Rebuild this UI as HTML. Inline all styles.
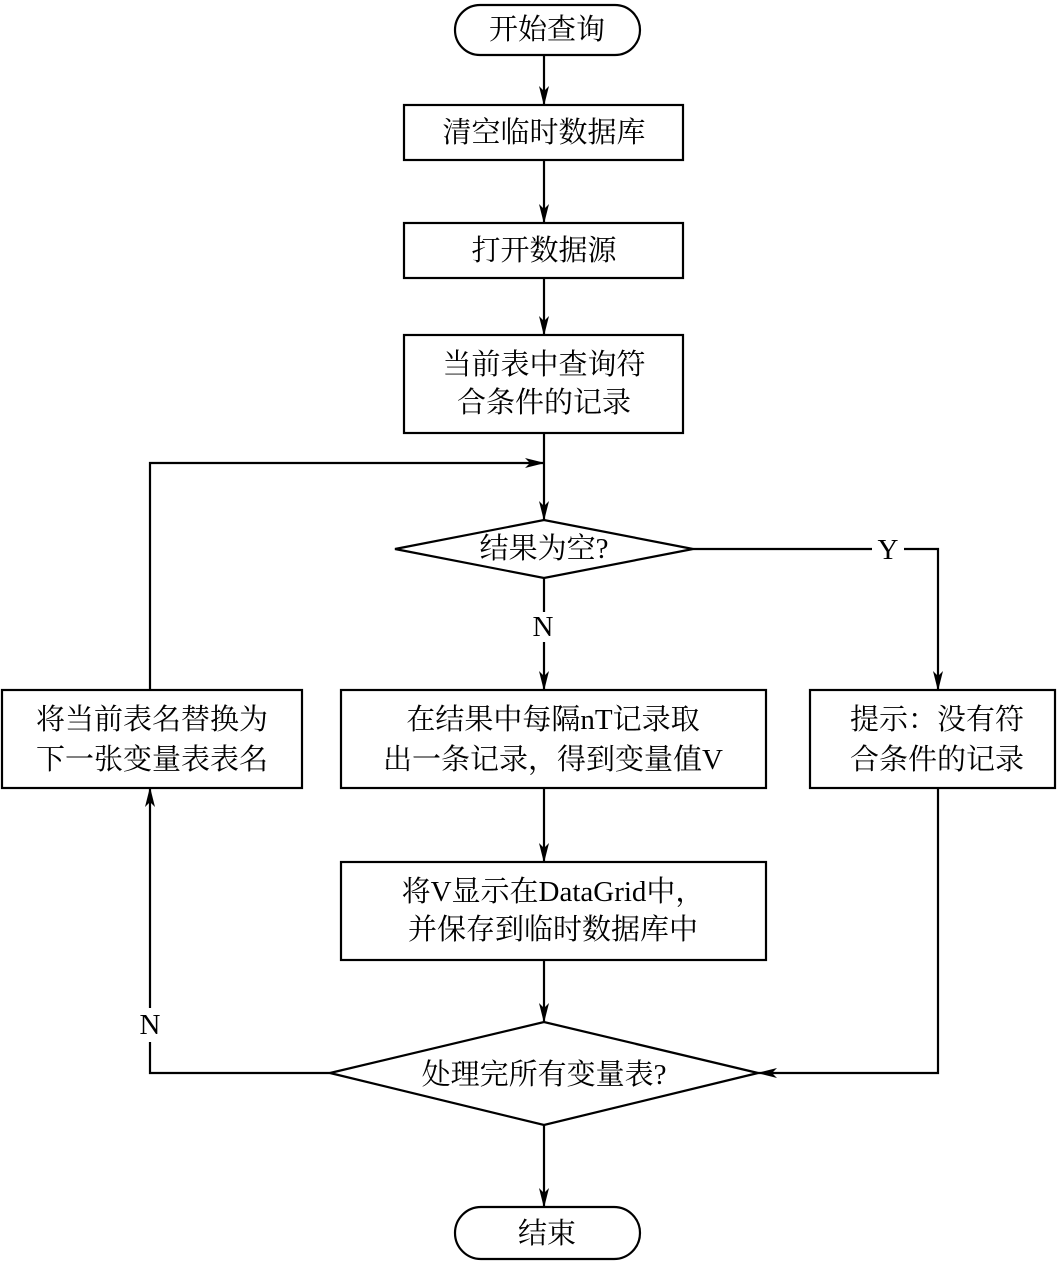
<!DOCTYPE html>
<html><head><meta charset="utf-8"><style>
html,body{margin:0;padding:0;background:#fff;}
svg{display:block;}
text{font-family:"Liberation Serif","Noto Serif CJK SC",serif;font-size:29px;fill:#000;text-anchor:middle;dominant-baseline:central;}
</style></head><body>
<svg width="1057" height="1263" viewBox="0 0 1057 1263">
<defs><marker id="a" markerWidth="20" markerHeight="10" refX="19" refY="5" orient="auto" markerUnits="userSpaceOnUse"><path d="M0,0 L20,5 L0,10 L5,5 z" fill="#000"/></marker></defs>
<g fill="none" stroke="#000" stroke-width="2.2">
<rect x="455" y="5" width="185" height="50" rx="25"/>
<rect x="404" y="105" width="279" height="55"/>
<rect x="404" y="223" width="279" height="55"/>
<rect x="404" y="335" width="279" height="98"/>
<polygon points="395,549 544,520 693,549 544,578"/>
<rect x="2" y="690" width="300" height="98"/>
<rect x="341" y="690" width="425" height="98"/>
<rect x="810" y="690" width="245" height="98"/>
<rect x="341" y="862" width="425" height="98"/>
<polygon points="330,1073 544,1022 758,1073 544,1125"/>
<rect x="455" y="1207" width="185" height="52" rx="26"/>
<line x1="544" y1="55" x2="544" y2="105" marker-end="url(#a)"/>
<line x1="544" y1="160" x2="544" y2="223" marker-end="url(#a)"/>
<line x1="544" y1="278" x2="544" y2="335" marker-end="url(#a)"/>
<line x1="544" y1="433" x2="544" y2="520" marker-end="url(#a)"/>
<polyline points="150,690 150,463 544,463" marker-end="url(#a)"/>
<line x1="544" y1="578" x2="544" y2="612"/>
<line x1="544" y1="642" x2="544" y2="690" marker-end="url(#a)"/>
<polyline points="693,549 872,549"/>
<polyline points="904,549 938,549 938,690" marker-end="url(#a)"/>
<line x1="544" y1="788" x2="544" y2="862" marker-end="url(#a)"/>
<line x1="544" y1="960" x2="544" y2="1022" marker-end="url(#a)"/>
<polyline points="938,788 938,1073 758,1073" marker-end="url(#a)"/>
<polyline points="330,1073 150,1073 150,1042"/>
<line x1="150" y1="1008" x2="150" y2="788" marker-end="url(#a)"/>
<line x1="544" y1="1125" x2="544" y2="1207" marker-end="url(#a)"/>
</g>
<text x="547" y="30">开始查询</text>
<text x="544" y="133">清空临时数据库</text>
<text x="544" y="251">打开数据源</text>
<text x="544" y="365">当前表中查询符</text>
<text x="544" y="403">合条件的记录</text>
<text x="544" y="549">结果为空?</text>
<text x="888" y="550">Y</text>
<text x="543" y="627">N</text>
<text x="152" y="720">将当前表名替换为</text>
<text x="152" y="760">下一张变量表表名</text>
<text x="553" y="720">在结果中每隔nT记录取</text>
<text x="553" y="760">出一条记录，得到变量值V</text>
<text x="937" y="720">提示：没有符</text>
<text x="937" y="760">合条件的记录</text>
<text x="553" y="892">将V显示在DataGrid中，</text>
<text x="553" y="930">并保存到临时数据库中</text>
<text x="150" y="1025">N</text>
<text x="544" y="1075">处理完所有变量表?</text>
<text x="547" y="1234">结束</text>
</svg>
</body></html>
